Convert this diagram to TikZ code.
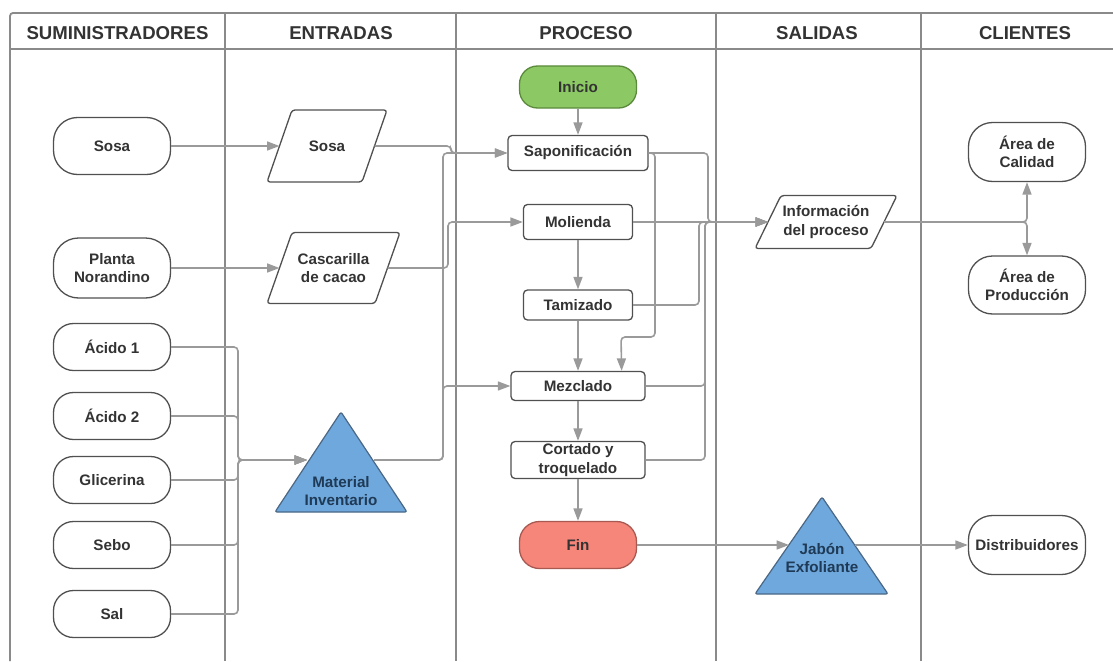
\documentclass[tikz,border=0pt]{standalone}
\usepackage{fontspec}
\setmainfont{Liberation Sans}
\usetikzlibrary{arrows.meta,shapes.geometric,calc}
\definecolor{linec}{HTML}{9A9A9A}
\definecolor{framec}{HTML}{8A8A8A}
\definecolor{nodeb}{HTML}{505050}
\definecolor{txt}{HTML}{333333}
\definecolor{greenf}{HTML}{8CC965}
\definecolor{greenb}{HTML}{5B8A3C}
\definecolor{redf}{HTML}{F6857A}
\definecolor{redb}{HTML}{A85A52}
\definecolor{bluef}{HTML}{6FA8DC}
\definecolor{blueb}{HTML}{4A6785}
\definecolor{bluet}{HTML}{1F3A56}
\tikzset{
  base/.style={draw=nodeb, line width=1.3pt, text=txt, align=center, inner sep=0pt,
    font=\fontsize{15.2}{18.5}\selectfont\bfseries},
  stad/.style={base, rounded corners=#1, minimum width=117pt},
  proc/.style={base, rounded corners=4pt},
  paratext/.style={base, draw=none},
  parashape/.style={draw=nodeb, line width=1.3pt, rounded corners=3pt},
  hdr/.style={text=txt, inner sep=0pt, font=\fontsize{18.6}{22}\selectfont\bfseries},
  tri/.style={fill=bluef, draw=blueb, line width=1.2pt, rounded corners=2pt},
  tritext/.style={text=bluet, align=center, inner sep=0pt,
    font=\fontsize{15.2}{18.5}\selectfont\bfseries},
  conn/.style={draw=linec, line width=1.6pt, rounded corners=4pt},
  arr/.style={conn, -{Triangle[length=12.5pt,width=9pt]}},
  frm/.style={draw=framec, line width=1.8pt}
}
\begin{document}
\begin{tikzpicture}[x=1pt,y=-1pt]
\useasboundingbox (0,0) rectangle (1113,661);
\fill[white] (0,0) rectangle (1113,661);

% frame and lanes
\draw[frm, rounded corners=3pt] (10,661) -- (10,13) -- (1113,13);
\draw[frm] (10,49) -- (1113,49);
\foreach \x in {225,456,716,921} \draw[frm] (\x,13) -- (\x,661);

% headers
\node[hdr] (h1) at (117.5,33.5) {SUMINISTRADORES};
\node[hdr] (h2) at (341,33.5) {ENTRADAS};
\node[hdr] (h3) at (586,33.5) {PROCESO};
\node[hdr] (h4) at (817,33.5) {SALIDAS};
\node[hdr] (h5) at (1025,33.5) {CLIENTES};

% suppliers
\node[stad=24pt, minimum height=57pt] (s1) at (112,146) {Sosa};
\node[stad=25pt, minimum height=60pt] (s2) at (112,268) {Planta\\Norandino};
\node[stad=20pt, minimum height=47pt] (s3) at (112,347) {Ácido 1};
\node[stad=20pt, minimum height=47pt] (s4) at (112,416) {Ácido 2};
\node[stad=20pt, minimum height=47pt] (s5) at (112,480) {Glicerina};
\node[stad=20pt, minimum height=47pt] (s6) at (112,545) {Sebo};
\node[stad=20pt, minimum height=47pt] (s7) at (112,614) {Sal};

% entradas
\node[paratext] (e1) at (327,146) {Sosa};
\draw[parashape] ($(e1)+(-60,36)$) -- ($(e1)+(-35,-36)$) -- ($(e1)+(60,-36)$) -- ($(e1)+(35,36)$) -- cycle;
\coordinate (e1L) at ($(e1)+(-47.5,0)$);
\coordinate (e1R) at ($(e1)+(47.5,0)$);
\node[paratext] (e2) at (333.5,268) {Cascarilla\\de cacao};
\draw[parashape] ($(e2)+(-66.5,35.5)$) -- ($(e2)+(-41.5,-35.5)$) -- ($(e2)+(66.5,-35.5)$) -- ($(e2)+(41.5,35.5)$) -- cycle;
\coordinate (e2L) at ($(e2)+(-54,0)$);
\coordinate (e2R) at ($(e2)+(54,0)$);
\draw[tri] (275,512) -- (341,412) -- (407,512) -- cycle;
\node[tritext] (mat) at (341,491) {Material\\Inventario};
\coordinate (matL) at (307,460);
\coordinate (matR) at (374,460);
\coordinate (bus) at (238,460);

% proceso
\node[base, fill=greenf, draw=greenb, rounded corners=18pt, minimum width=117pt, minimum height=42pt] (ini) at (578,87) {Inicio};
\node[proc, minimum width=140pt, minimum height=35pt] (sapo) at (578,153) {Saponificación};
\node[proc, minimum width=109pt, minimum height=35pt] (mol) at (578,222) {Molienda};
\node[proc, minimum width=109pt, minimum height=30pt] (tam) at (578,305) {Tamizado};
\node[proc, minimum width=134pt, minimum height=29pt] (mez) at (578,386) {Mezclado};
\node[proc, minimum width=134pt, minimum height=37pt] (cort) at (578,460) {Cortado y\\troquelado};
\node[base, fill=redf, draw=redb, rounded corners=20pt, minimum width=117pt, minimum height=47pt] (fin) at (578,545) {Fin};

% salidas
\node[paratext] (info) at (826,222) {Información\\del proceso};
\draw[parashape] ($(info)+(-71,26.5)$) -- ($(info)+(-45,-26.5)$) -- ($(info)+(71,-26.5)$) -- ($(info)+(45,26.5)$) -- cycle;
\coordinate (infoL) at ($(info)+(-58,0)$);
\coordinate (infoR) at ($(info)+(58,0)$);
\draw[tri] (755,594) -- (822,497) -- (888,594) -- cycle;
\node[tritext] (jab) at (822,558) {Jabón\\Exfoliante};
\coordinate (jabL) at (789,545);
\coordinate (jabR) at (855,545);

% clientes
\node[stad=24pt, minimum height=59pt] (cal) at (1027,152) {Área de\\Calidad};
\node[stad=24pt, minimum height=58pt] (prod) at (1027,285) {Área de\\Producción};
\node[stad=24pt, minimum height=59pt] (dist) at (1027,545) {Distribuidores};

% connectors: suppliers -> entradas
\draw[arr] (s1) -- (e1L);
\draw[arr] (s2) -- (e2L);
\foreach \n in {s3,s4,s5,s6,s7}
  \draw[arr] (\n.east) -- (\n.east -| bus) -- (bus) -- (matL);

% entradas -> proceso
\draw[arr] (e1R) -- (451,146) -- (451,153) -- (sapo.west);
\draw[arr] (matR) -- (443,460) -- (443,153) -- (sapo.west);
\draw[arr] (matR) -- (443,460) -- (443,386) -- (mez.west);
\draw[arr] (e2R) -- (448,268) -- (448,222) -- (mol.west);

% proceso chain
\draw[arr] (ini) -- (sapo);
\draw[arr] (mol) -- (tam);
\draw[arr] (tam) -- (mez);
\draw[arr] (mez) -- (cort);
\draw[arr] (cort) -- (fin);
\draw[arr] (sapo.east) -- (655,153) -- (655,337) -- (621,337) -- ($(mez.north east)+(-24,0)$);

% proceso -> informacion
\draw[arr] (sapo.east) -- (708,153) -- (708,222) -- (infoL);
\draw[arr] (mol.east) -- (infoL);
\draw[arr] (tam.east) -- (699,305) -- (699,222) -- (infoL);
\draw[arr] (mez.east) -- (705,386) -- (705,222) -- (infoL);
\draw[arr] (cort.east) -- (705,460) -- (705,222) -- (infoL);

% informacion -> clientes
\draw[arr] (infoR) -- (1027,222) -- (cal.south);
\draw[arr] (infoR) -- (1027,222) -- (prod.north);

% fin -> jabon -> distribuidores
\draw[arr] (fin.east) -- (jabL);
\draw[arr] (jabR) -- (dist.west);
\end{tikzpicture}
\end{document}
